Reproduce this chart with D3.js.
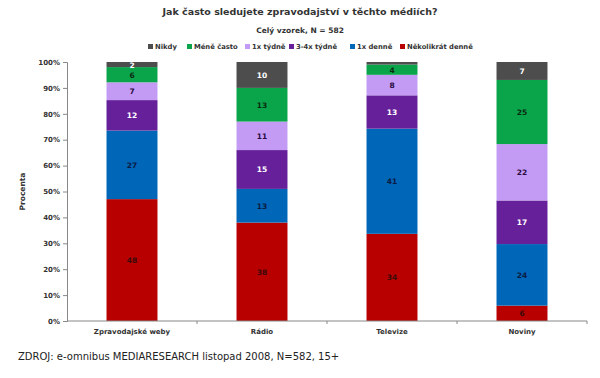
<!DOCTYPE html>
<html>
<head>
<script src="https://cdnjs.cloudflare.com/ajax/libs/d3/7.8.5/d3.min.js"></script>
<style>
  body { margin: 0; background: #fff; }
  text { font-family: Verdana, 'DejaVu Sans', sans-serif; }
</style>
</head>
<body>
<svg id="chart" width="600" height="378"></svg>
<script>
const categories = ["Zpravodajské weby", "Rádio", "Televize", "Noviny"]
// bottom to top
const seriesNames = ["Několikrát denně", "1x denně", "3-4x týdně", "1x týdně", "Méně často", "Nikdy"]
const nekolikratDenne = [48, 38, 34, 6]
const jednouDenne = [27, 13, 41, 24]
const tydne34 = [12, 15, 13, 17]
const jednouTydne = [7, 11, 8, 22]
const meneCasto = [6, 13, 4, 25]
const nikdy = [2, 10, 1, 7]
const yTicks = [0, 10, 20, 30, 40, 50, 60, 70, 80, 90, 100]
const legendOrder = ["Nikdy", "Méně často", "1x týdně", "3-4x týdně", "1x denně", "Několikrát denně"]

const seriesValues = [nekolikratDenne, jednouDenne, tydne34, jednouTydne, meneCasto, nikdy]
const colors = ["#b80000", "#0066b8", "#66219a", "#c39bf5", "#0aa54b", "#4d4d4d"]
const labelColors = ["#3a0a0a", "#0a1a40", "#ffffff", "#2a0a40", "#0a2a10", "#ffffff"]

const svg = d3.select("#chart")
const mLeft = 67, mRight = 587, mTop = 62, mBottom = 321

const x = d3.scaleBand().domain(categories).range([mLeft, mRight]).paddingInner(0.608).paddingOuter(0.304)
const y = d3.scaleLinear().domain([0, 100]).range([mBottom, mTop])

// build normalized stacks
const rows = categories.map((c, i) => {
  const r = { cat: c }
  seriesNames.forEach((s, j) => r[s] = seriesValues[j][i])
  return r
})
const stack = d3.stack().keys(seriesNames).offset(d3.stackOffsetExpand)
const stacked = stack(rows)

svg.append("text").attr("x", 300).attr("y", 15).attr("text-anchor", "middle")
  .attr("font-size", 9.5).attr("font-weight", "bold").attr("fill", "#333")
  .text("Jak často sledujete zpravodajství v těchto médiích?")
svg.append("text").attr("x", 300).attr("y", 33).attr("text-anchor", "middle")
  .attr("font-size", 7.5).attr("font-weight", "bold").attr("fill", "#333")
  .text("Celý vzorek, N = 582")

// legend
const legendX = [148, 187, 245, 289, 350, 400]
legendOrder.forEach((name, i) => {
  const j = seriesNames.indexOf(name)
  const g = svg.append("g").attr("transform", `translate(${legendX[i]},49)`)
  g.append("rect").attr("x", 0).attr("y", -5).attr("width", 5).attr("height", 5).attr("fill", colors[j])
  g.append("text").attr("x", 7).attr("y", 0).attr("font-size", 6.8).attr("font-weight", "bold")
    .attr("fill", "#333").text(name)
})

// bars
stacked.forEach((layer, j) => {
  svg.append("g").selectAll("rect").data(layer).enter().append("rect")
    .attr("x", d => x(d.data.cat))
    .attr("width", x.bandwidth())
    .attr("y", d => y(d[1] * 100))
    .attr("height", d => y(d[0] * 100) - y(d[1] * 100))
    .attr("fill", colors[j])
  svg.append("g").selectAll("text").data(layer).enter().append("text")
    .filter(d => d.data[layer.key] >= 2)
    .attr("x", d => x(d.data.cat) + x.bandwidth() / 2)
    .attr("y", d => y((d[0] + d[1]) * 50) + 3)
    .attr("text-anchor", "middle")
    .attr("font-size", 7.5).attr("font-weight", "bold")
    .attr("fill", labelColors[j])
    .text(d => d.data[layer.key])
})

// y axis
const yAxis = svg.append("g").attr("transform", `translate(${mLeft},0)`)
  .call(d3.axisLeft(y).tickValues(yTicks).tickSize(4).tickFormat(d => d + "%"))
yAxis.select(".domain").attr("stroke", "#888")
yAxis.selectAll(".tick line").attr("stroke", "#888")
yAxis.selectAll("text").attr("font-size", 7).attr("font-weight", "bold").attr("fill", "#333")
  .attr("font-family", "Verdana, 'DejaVu Sans', sans-serif")

svg.append("text").attr("transform", `translate(25,${(mTop + mBottom) / 2}) rotate(-90)`)
  .attr("text-anchor", "middle").attr("font-size", 7.5).attr("font-weight", "bold").attr("fill", "#333")
  .text("Procenta")

// x axis
svg.append("line").attr("x1", mLeft).attr("x2", mRight).attr("y1", mBottom).attr("y2", mBottom).attr("stroke", "#888")
d3.range(1, categories.length + 1).forEach(i => {
  const tx = mLeft + i * (mRight - mLeft) / categories.length
  svg.append("line").attr("x1", tx).attr("x2", tx).attr("y1", mBottom).attr("y2", mBottom + 3).attr("stroke", "#888")
})
svg.append("g").selectAll("text").data(categories).enter().append("text")
  .attr("x", d => x(d) + x.bandwidth() / 2).attr("y", mBottom + 13)
  .attr("text-anchor", "middle").attr("font-size", 7).attr("font-weight", "bold").attr("fill", "#333")
  .text(d => d)

svg.append("text").attr("x", 18).attr("y", 360).attr("font-size", 10).attr("fill", "#222")
  .attr("font-family", "Tahoma, 'DejaVu Sans', sans-serif")
  .text("ZDROJ: e-omnibus MEDIARESEARCH listopad 2008, N=582, 15+")
</script>
</body>
</html>
